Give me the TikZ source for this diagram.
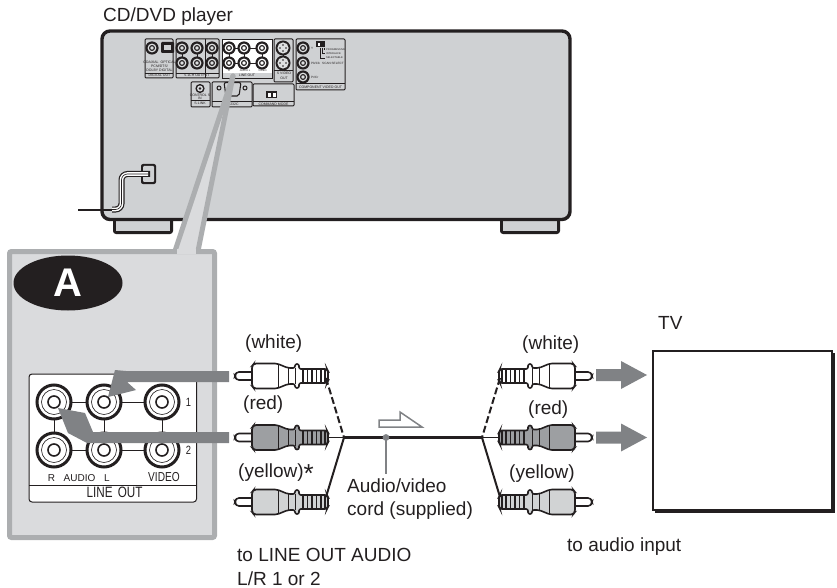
\documentclass[tikz,border=0pt]{standalone}
\usepackage{fontspec}
\setmainfont{Liberation Sans}
\usetikzlibrary{calc}
\definecolor{body}{HTML}{CFD1D3}
\definecolor{pale}{HTML}{DADBDD}
\definecolor{rim}{HTML}{ACAEB0}
\definecolor{arrowgray}{HTML}{808285}
\definecolor{plugdark}{HTML}{9D9FA2}
\definecolor{plugmid}{HTML}{D1D3D4}
\definecolor{ink}{HTML}{231F20}
\tikzset{
  x=1pt,y=-1pt,
  lbl/.style={font=\fontsize{19}{19}\selectfont,text=ink,anchor=base west,inner sep=0pt},
  tiny/.style={font=\fontsize{3.5}{3.8}\selectfont,text=ink,inner sep=0pt,align=center},
  tinier/.style={font=\fontsize{2.6}{2.8}\selectfont,text=ink,inner sep=0pt,anchor=west},
  paneltxt/.style={text=ink,inner sep=0pt,anchor=base},
  narrow/.style={xscale=.78,transform shape},
  panelbox/.style={draw=ink,line width=1pt,rounded corners=1pt},
  bigarrow/.style={fill=arrowgray,draw=none},
  plug/.pic={
    \draw[ink,line width=1.6pt,fill=white,rounded corners=3pt] (17,-4) -- (1,-4) -- (0,0) -- (1,4) -- (17,4);
    \fill[#1] (17,-12.5) -- (42,-12.5) -- (53,-8) -- (60,-8) -- (60,-12) -- (64,-12) -- (64,-7) -- (92,-7) -- (92,7) -- (64,7) -- (64,12) -- (60,12) -- (60,8) -- (53,8) -- (42,12.5) -- (17,12.5) -- cycle;
    \draw[ink,line width=1.6pt,rounded corners=2pt] (19,-12.5) -- (42,-12.5) -- (53,-8) -- (60,-8) -- (60,-12) -- (64,-12) -- (64,-7) -- (92,-7) -- (93,-5) -- (93,5) -- (92,7) -- (64,7) -- (64,12) -- (60,12) -- (60,8) -- (53,8) -- (42,12.5) -- (19,12.5) -- (17,10) -- (17,-10) -- cycle;
    \draw[ink,line width=.7pt] (43,-12) -- (43,12) (53,-8) -- (53,8) (60,-8) -- (60,8);
    \foreach \q in {68,72.5,77,81.5,86,90}{\draw[ink,line width=1.1pt] (\q,-6.5) -- (\q,6.5);}
  },
  jackbig/.pic={
    \draw[ink,line width=3pt,fill=white] (0,0) circle (17);
    \draw[ink,line width=.6pt] (0,0) circle (12.5);
    \draw[ink,line width=1.6pt] (0,0) circle (6);
  },
  jacksmall/.pic={
    \fill[ink] (0,0) circle (6.6);
    \fill[#1] (0,0) circle (4.4);
    \draw[ink,line width=1.1pt] (0,0) circle (2.4);
  }
}
\begin{document}
\begin{tikzpicture}
\useasboundingbox (0,0) rectangle (837,588);
% player
\fill[ink,rounded corners=3pt] (113,216) rectangle (173,234);
\fill[ink,rounded corners=3pt] (500,216) rectangle (560,234);
\fill[body] (116,218) rectangle (170,231);
\fill[body] (503,218) rectangle (557,231);
\draw[ink,line width=3.4pt,fill=body,rounded corners=8pt] (102,31) rectangle (570,219.5);
\node[lbl] (title) at (103,22) {CD/DVD player};
% rear panels
\foreach \n/\xa/\ya/\xb/\yb in {dig/145/39/173/78,six/176/39/219/78,sv/274/39/293/82,comp/296/39/345/90,sl/191/82/210/107,rs/212/82/252/107,cmd/253/84/294/106}{
  \draw[panelbox] (\xa,\ya) rectangle (\xb,\yb);
}
\draw[ink,line width=.8pt] (205,39) -- (205,78);
\fill[white] (222,39) rectangle (272,73);
\draw[ink,line width=.8pt] (222,39) -- (272,39) (222,39) -- (222,78) (272,39) -- (272,78) -- (222,78);
\draw[ink,line width=.6pt] (145,73) -- (173,73) (176,73) -- (219,73);
\draw[ink,line width=.6pt] (296,83.5) -- (345,83.5) (274,70) -- (293,70) (191,100) -- (210,100) (212,101) -- (252,101) (253,101) -- (294,101);
\draw[ink,line width=.8pt] (229,48) -- (262,48) (229,63) -- (262,63) (229,48) -- (229,63) (244,48) -- (244,63) (262,48) -- (262,63) (182,48) -- (182,63) (197,48) -- (197,63) (212,48) -- (212,63) (283,48) -- (283,63);
\foreach \x/\y in {152/48,182/48,197/48,212/48,182/63,197/63,212/63,303/48,303/63,303/77}{
  \pic at (\x,\y) {jacksmall=body!70!white};
}
\foreach \x/\y in {229/48,244/48,262/48,229/63,244/63,262/63}{
  \pic at (\x,\y) {jacksmall=white};
}
\foreach \y in {48,63}{
  \fill[ink] (283,\y) circle (7.5);
  \fill[body!70!white] (283,\y) circle (5.6);
  \foreach \a in {0,90,180,270}{\fill[ink] ($(283,\y)+(\a:3)$) circle (.8);}
}
\fill[ink,rounded corners=1pt] (161,42) rectangle (174,53);
\fill[body] (164,45) rectangle (171,50);
\fill[ink] (200,88.5) circle (4.6);
\fill[body!80!white] (200,88.5) circle (3);
\fill[ink] (200,88.5) circle (1.3);
% RS232C
\draw[ink,line width=1pt] (219,88) circle (2) (245,88) circle (2);
\draw[ink,line width=1.1pt,rounded corners=2pt] (224,82.5) -- (241,82.5) -- (239,96) -- (226,96) -- cycle;
% command switch
\fill[ink] (266,91) rectangle (277,98);
\fill[white] (268,93) rectangle (271,97);
\fill[white] (273,93) rectangle (276,97);
% scan switch
\fill[ink] (316,41) rectangle (325,47);
\fill[white] (318,43) rectangle (320,46);
\draw[ink,line width=.7pt] (320,48) -- (320,58) -- (325,58) (322,48) -- (322,53) -- (325,53) (324,48) -- (324,49) -- (325,49);
% tiny labels
\node[tiny] (l1) at (159.5,62) {COAXIAL\ \ OPTICAL};
\node[tiny] (l2) at (159.5,66) {PCM/DTS/};
\node[tiny] (l3) at (159.5,70) {DOLBY DIGITAL};
\node[tiny] (l4) at (159.5,75.5) {DIGITAL OUT};
\node[tiny] (l5) at (197,75.5) {5.1CH OUTPUT};
\node[tiny] (l6) at (247,75.5) {LINE OUT};
\node[tiny] (l7) at (284,73) {S VIDEO};
\node[tiny] (l7b) at (284,78.5) {OUT};
\node[tiny] (l8) at (320.5,87) {COMPONENT VIDEO OUT};
\node[tiny] (l9) at (200,103.5) {S-LINK};
\node[tiny] (l9b) at (200,95) {CONTROL S};
\node[tiny] (l9c) at (200,98) {IN};
\node[tiny] (l10) at (232,104) {RS232C};
\node[tiny] (l11) at (273.5,104) {COMMAND MODE};
\node[tinier] (l12) at (326,49.5) {PROGRESSIVE};
\node[tinier] (l13) at (326,53.5) {INTERLACE};
\node[tinier] (l14) at (326,58) {SELECTABLE};
\node[tinier,font=\fontsize{3.1}{3.3}\selectfont] (l15) at (322,63) {SCAN SELECT};
\node[tinier,font=\fontsize{3.1}{3.3}\selectfont] (l16) at (311,63) {Pb/Cb};
\node[tinier,font=\fontsize{3.1}{3.3}\selectfont] (l17) at (311,77) {Pr/Cr};
\node[tinier,font=\fontsize{3.1}{3.3}\selectfont] (l18) at (311,48) {Y};
\node[tinier,anchor=center] (l19) at (229,70.5) {R};
\node[tinier,anchor=center] (l20) at (245,70.5) {AUDIO\ L};
\node[tinier,anchor=center] (l21) at (262.5,70.5) {VIDEO};
% power cord
\fill[ink,rounded corners=2pt] (141,164) rectangle (156,184);
\fill[body,rounded corners=1pt] (143,166) rectangle (154,182);
\draw[ink,line width=2pt] (78,209.5) -- (112,209.5);
\draw[ink,line width=6pt,rounded corners=6pt] (112,209.5) -- (121.5,209.5) -- (121.5,174) -- (150,174);
\draw[white,line width=3.6pt,rounded corners=6pt] (112,209.5) -- (121.5,209.5) -- (121.5,174) -- (148,174);
\draw[ink,line width=.6pt,rounded corners=6pt] (112,209.5) -- (121.5,209.5) -- (121.5,174) -- (148,174);
% callout
\draw[rim,line width=5pt,fill=pale,rounded corners=2pt] (9.5,251.5) rectangle (214.5,537.5);
\fill[pale] (233,76) -- (176,252) -- (199,252) -- cycle;
\draw[rim,line width=5pt,line cap=round] (233,76) -- (175,251);
\draw[rim,line width=5pt,line cap=round] (233,76) -- (198,251);
\fill[pale] (177,249) -- (196,249) -- (196,254) -- (177,254) -- cycle;
% badge
\fill[ink] (68,283) ellipse (54.5 and 27.5);
\node[font=\fontsize{40}{40}\selectfont\bfseries,text=white,inner sep=0pt] (badge) at (68,283) {A};
% line out panel
\draw[ink,line width=1pt,fill=white,rounded corners=3pt] (29,374) rectangle (196.5,502);
\draw[ink,line width=1pt] (29,485) -- (196.5,485);
\draw[ink,line width=1pt] (54,402) -- (162,402) (54,450) -- (162,450) (54,402) -- (54,450) (104,402) -- (104,450) (162,402) -- (162,450);
\foreach \n/\x/\y in {j1/54/402,j2/104/402,j3/162/402,j4/54/450,j5/104/450,j6/162/450}{
  \pic (\n) at (\x,\y) {jackbig};
}
\node[paneltxt,narrow,font=\fontsize{12}{12}\selectfont] (n1) at (188.5,406.5) {1};
\node[paneltxt,narrow,font=\fontsize{12}{12}\selectfont] (n2) at (188.5,454.5) {2};
\node[paneltxt,font=\fontsize{10}{10}\selectfont] (ar) at (51.5,481) {R};
\node[paneltxt,font=\fontsize{10}{10}\selectfont] (aa) at (79.5,481) {AUDIO};
\node[paneltxt,font=\fontsize{10}{10}\selectfont] (al) at (107,481) {L};
\node[paneltxt,narrow,font=\fontsize{13}{13}\selectfont] (av) at (164,481) {VIDEO};
\node[paneltxt,narrow,font=\fontsize{15}{15}\selectfont] (lo) at (114.5,497.5) {LINE\ \,OUT};
% arrows into the jacks
\fill[bigarrow] (229,371) -- (126,371) -- (115,370) -- (108,397) -- (136,390) -- (127,382) -- (229,382) -- cycle;
\fill[bigarrow] (229,432) -- (93,432) -- (85,413) -- (58,408) -- (68,433) -- (87,443) -- (229,443) -- cycle;
% plugs
\pic (pl1) at (235,376) {plug=white};
\pic (pl2) at (235,437.5) {plug=plugdark};
\pic (pl3) at (235,502) {plug=plugmid};
\pic[xscale=-1] (pr1) at (592,376) {plug=white};
\pic[xscale=-1] (pr2) at (592,437.5) {plug=plugdark};
\pic[xscale=-1] (pr3) at (592,502) {plug=plugmid};
% cords
\coordinate (jl) at (344,437.5);
\coordinate (jr) at (482,437.5);
\coordinate (e1) at (326,378);
\coordinate (e2) at (328,437.5);
\coordinate (e3) at (326,497);
\coordinate (f1) at (500,378);
\coordinate (f2) at (499,437.5);
\coordinate (f3) at (500,497);
\draw[ink,line width=2pt,dash pattern=on 7pt off 3pt] (e1) -- (jl);
\draw[ink,line width=1.7pt] (e2) -- (jl) (f2) -- (jr);
\draw[ink,line width=2pt] (e3) -- (jl);
\draw[ink,line width=3pt] (jl) -- (jr);
\draw[ink,line width=2pt,dash pattern=on 7pt off 3pt] (f1) -- (jr);
\draw[ink,line width=2pt] (f3) -- (jr);
% supplied cord note
\coordinate (dot) at (386,437.5);
\coordinate (dotend) at (386,474);
\draw[arrowgray,line width=1.4pt] (dot) -- (dotend);
\fill[arrowgray] (dot) circle (3.4);
\draw[arrowgray,line width=1.5pt] (379,427) -- (379,420) -- (400,420) -- (400,412) -- (422,427) -- cycle;
% TV arrows
\foreach \y in {375,437.5}{
  \fill[bigarrow] (596,\y-6) -- (621,\y-6) -- (621,\y-14) -- (647,\y) -- (621,\y+14) -- (621,\y+6) -- (596,\y+6) -- cycle;
}
% TV
\fill[ink] (655,353) rectangle (835,512.5);
\draw[ink,line width=1.3pt,fill=white] (653,351) rectangle (832,510);
% labels
\node[lbl] (t1) at (245,348) {(white)};
\node[lbl] (t2) at (243,409) {(red)};
\node[lbl] (t3) at (238,477) {(yellow){\fontsize{26}{26}\selectfont\raisebox{-5pt}{*}}};
\node[lbl] (t4) at (347,492) {Audio/video};
\node[lbl] (t5) at (347,515) {cord (supplied)};
\node[lbl] (t6) at (522,349) {(white)};
\node[lbl] (t7) at (528,414) {(red)};
\node[lbl] (t8) at (509,478) {(yellow)};
\node[lbl] (t9) at (237,561) {to LINE OUT AUDIO};
\node[lbl] (t10) at (237,585) {L/R 1 or 2};
\node[lbl] (t11) at (567,551) {to audio input};
\node[lbl] (tv) at (658,329) {TV};
\end{tikzpicture}
\end{document}
